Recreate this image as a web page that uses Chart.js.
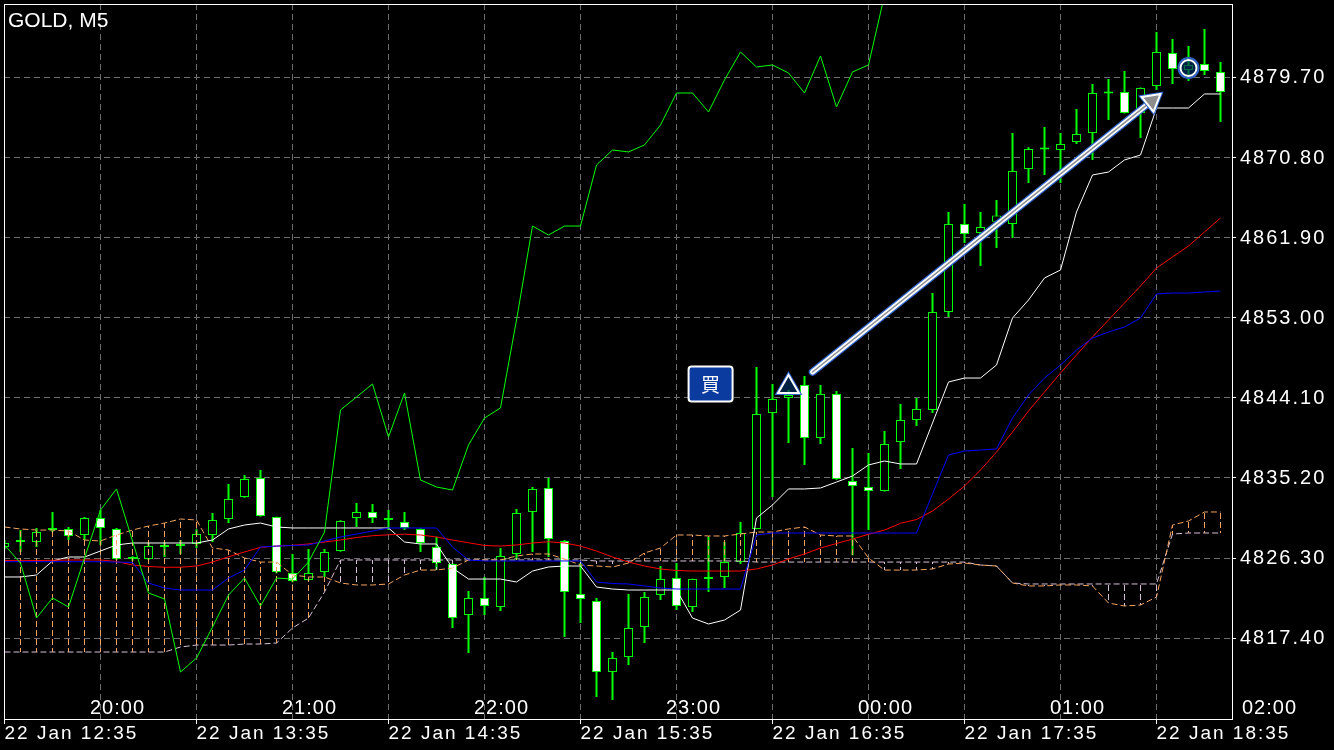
<!DOCTYPE html>
<html>
<head>
<meta charset="utf-8">
<title>GOLD, M5</title>
<script src="https://cdn.jsdelivr.net/npm/chart.js@4.4.1/dist/chart.umd.min.js"></script>
<style>
  html, body { margin: 0; padding: 0; background: #000; overflow: hidden; }
</style>
</head>
<body>
<canvas id="chart" width="1334" height="750"></canvas>
<script>
// 5 minute bars, bar 0 = 22 Jan 12:35 (server time)
const opens = [4827.52, 4828.08, 4828.08, 4829.42, 4829.53, 4828.86, 4830.75, 4829.53, 4826.19, 4826.19,
  4827.52, 4827.64, 4827.86, 4828.86, 4830.64, 4833.09, 4835.20, 4830.86, 4824.63, 4823.86,
  4824.74, 4827.08, 4830.75, 4831.42, 4830.53, 4830.31, 4829.53, 4827.52, 4825.63, 4819.96,
  4821.85, 4820.85, 4826.75, 4831.42, 4834.09, 4828.19, 4822.30, 4821.52, 4813.61, 4815.28,
  4818.63, 4822.19, 4824.08, 4820.85, 4823.97, 4824.19, 4825.85, 4829.53, 4842.43, 4844.10,
  4845.55, 4839.65, 4844.55, 4834.87, 4834.20, 4833.75, 4839.20, 4841.65, 4842.77, 4853.67,
  4863.46, 4862.46, 4863.70, 4863.46, 4869.58, 4871.75, 4871.69, 4872.58, 4873.58, 4877.98,
  4878.14, 4875.81, 4878.81, 4882.48, 4880.59, 4881.26, 4880.37];
const highs = [4828.30, 4829.42, 4829.64, 4831.42, 4829.75, 4830.86, 4831.64, 4829.64, 4826.50, 4827.97,
  4828.08, 4828.30, 4829.50, 4831.31, 4834.53, 4835.53, 4836.09, 4830.90, 4826.75, 4827.30,
  4827.30, 4830.50, 4832.42, 4832.31, 4831.64, 4831.42, 4829.60, 4828.64, 4825.70, 4822.63,
  4824.19, 4827.41, 4831.75, 4834.20, 4835.20, 4828.30, 4825.74, 4821.85, 4815.84, 4822.30,
  4822.52, 4825.41, 4825.74, 4824.00, 4828.64, 4828.08, 4830.31, 4847.55, 4845.66, 4844.99,
  4846.55, 4845.55, 4844.88, 4838.54, 4837.98, 4840.43, 4843.43, 4844.10, 4855.78, 4864.79,
  4865.69, 4864.79, 4866.13, 4873.58, 4872.00, 4874.25, 4873.58, 4876.25, 4879.03, 4879.59,
  4880.48, 4878.65, 4884.82, 4884.04, 4883.26, 4885.15, 4881.48];
const lows = [4827.30, 4826.97, 4827.52, 4829.19, 4828.30, 4828.30, 4827.75, 4826.08, 4826.00, 4826.08,
  4826.41, 4826.75, 4827.41, 4828.08, 4830.19, 4833.00, 4830.90, 4824.60, 4823.60, 4823.80,
  4824.19, 4827.00, 4829.75, 4830.19, 4829.42, 4829.42, 4826.97, 4824.97, 4818.51, 4815.73,
  4819.96, 4820.40, 4826.08, 4826.97, 4826.41, 4817.51, 4819.07, 4810.84, 4810.51, 4814.39,
  4816.84, 4821.63, 4820.52, 4820.30, 4822.52, 4822.96, 4825.63, 4829.50, 4833.09, 4839.09,
  4836.65, 4838.98, 4835.00, 4826.60, 4829.42, 4833.70, 4836.20, 4840.99, 4842.43, 4853.11,
  4861.35, 4858.79, 4860.79, 4861.90, 4868.02, 4868.91, 4868.02, 4872.36, 4870.58, 4875.03,
  4875.75, 4873.03, 4878.37, 4879.03, 4879.37, 4880.03, 4874.81];
const closes = [4827.97, 4828.19, 4829.19, 4829.53, 4828.75, 4830.75, 4829.64, 4826.19, 4826.30, 4827.64,
  4827.64, 4827.75, 4828.97, 4830.53, 4832.86, 4835.09, 4830.97, 4824.74, 4823.74, 4824.63,
  4826.97, 4830.42, 4831.42, 4830.75, 4830.64, 4829.64, 4827.97, 4825.74, 4819.63, 4821.85,
  4820.96, 4826.52, 4831.31, 4833.98, 4828.41, 4822.52, 4821.74, 4813.61, 4815.17, 4818.51,
  4821.96, 4823.97, 4820.96, 4823.97, 4824.08, 4825.85, 4829.08, 4842.32, 4843.99, 4844.44,
  4839.65, 4844.55, 4835.09, 4834.31, 4833.75, 4838.98, 4841.65, 4842.88, 4853.67, 4863.46,
  4862.35, 4863.12, 4864.40, 4869.35, 4871.80, 4871.85, 4872.36, 4873.47, 4878.03, 4878.08,
  4875.81, 4878.59, 4882.59, 4880.70, 4881.15, 4880.48, 4878.14];

// indicator lines
const whiteLine = [4824.19, 4824.19, 4824.41, 4825.97, 4826.41, 4826.41, 4827.08, 4827.75, 4827.97, 4827.97,
  4827.97, 4827.97, 4827.97, 4828.30, 4829.53, 4829.97, 4830.19, 4829.75, 4829.64, 4829.64,
  4829.64, 4829.64, 4829.64, 4829.64, 4829.64, 4828.08, 4827.86, 4827.86, 4825.19, 4823.96,
  4823.96, 4823.96, 4823.63, 4824.85, 4825.30, 4825.41, 4825.41, 4823.07, 4822.85, 4822.74,
  4822.74, 4822.74, 4822.74, 4819.62, 4818.96, 4819.40, 4820.51, 4830.75, 4832.20, 4833.98,
  4833.98, 4834.09, 4834.75, 4835.42, 4836.65, 4837.09, 4836.76, 4836.76, 4841.32, 4845.88,
  4846.32, 4846.32, 4847.77, 4853.00, 4855.00, 4857.45, 4858.34, 4864.79, 4868.91, 4869.24,
  4870.58, 4871.13, 4876.36, 4876.36, 4876.36, 4877.92, 4877.92];
const blueLine = [4825.89, 4825.89, 4825.89, 4825.89, 4825.89, 4825.89, 4825.89, 4825.85, 4825.80, 4823.52,
  4822.96, 4822.74, 4822.74, 4822.74, 4824.07, 4824.96, 4827.52, 4827.63, 4827.69, 4827.75,
  4828.19, 4828.64, 4828.97, 4829.30, 4829.64, 4829.64, 4829.64, 4829.64, 4827.52, 4826.08,
  4825.97, 4825.97, 4825.97, 4825.97, 4825.97, 4825.97, 4825.97, 4823.63, 4823.46, 4823.41,
  4823.19, 4822.96, 4822.85, 4822.85, 4822.85, 4822.85, 4822.85, 4828.86, 4829.08, 4829.08,
  4829.08, 4829.08, 4829.08, 4829.08, 4829.08, 4829.08, 4829.08, 4829.08, 4833.42, 4837.76,
  4838.20, 4838.31, 4838.43, 4841.87, 4844.43, 4846.32, 4847.77, 4849.44, 4850.77, 4851.44,
  4852.00, 4853.00, 4855.67, 4855.78, 4855.78, 4855.89, 4856.00];
const redLine = [4826.02, 4826.00, 4826.02, 4826.04, 4826.08, 4826.08, 4826.08, 4825.91, 4825.52, 4825.35,
  4825.27, 4825.27, 4825.41, 4825.85, 4826.44, 4826.97, 4827.49, 4827.63, 4827.71, 4827.86,
  4828.08, 4828.30, 4828.58, 4828.78, 4828.88, 4828.95, 4828.86, 4828.64, 4828.30, 4828.00,
  4827.69, 4827.63, 4827.75, 4827.97, 4828.11, 4827.97, 4827.63, 4827.08, 4826.41, 4825.85,
  4825.41, 4825.08, 4824.91, 4824.85, 4824.85, 4824.85, 4824.85, 4825.08, 4825.52, 4826.19,
  4826.75, 4827.41, 4827.91, 4828.41, 4828.94, 4829.41, 4830.16, 4830.58, 4831.53, 4832.86,
  4834.31, 4836.09, 4838.09, 4840.32, 4842.65, 4844.77, 4846.88, 4848.88, 4850.89, 4852.78,
  4854.67, 4856.56, 4858.56, 4859.79, 4861.01, 4862.57, 4864.12];
const greenLine = [4827.75, 4825.74, 4819.63, 4821.85, 4820.85, 4826.30, 4831.64, 4833.98, 4828.19, 4822.41,
  4821.74, 4813.62, 4815.17, 4818.62, 4822.18, 4824.07, 4820.96, 4824.07, 4823.96, 4825.85,
  4829.19, 4842.77, 4844.21, 4845.66, 4839.76, 4844.66, 4834.98, 4834.20, 4833.86, 4838.87,
  4841.87, 4842.99, 4852.78, 4863.23, 4862.23, 4863.23, 4863.23, 4870.02, 4871.69, 4871.47,
  4872.25, 4874.47, 4878.03, 4878.03, 4875.92, 4879.48, 4882.59, 4880.92, 4881.15, 4880.26,
  4878.03, 4882.15, 4876.47, 4880.37, 4881.15, 4888.90, null, null, null, null,
  null, null, null, null, null, null, null, null, null, null,
  null, null, null, null, null, null, null];
const spanA = [4829.75, 4829.53, 4829.41, 4829.41, 4829.30, 4828.30, 4828.19, 4828.86, 4829.41, 4829.86,
  4830.19, 4830.64, 4830.53, 4827.41, 4827.19, 4826.30, 4825.85, 4825.85, 4824.41, 4824.19,
  4824.19, 4823.52, 4823.30, 4823.30, 4823.41, 4824.41, 4824.96, 4824.96, 4825.19, 4826.08,
  4826.08, 4826.08, 4826.52, 4826.75, 4826.75, 4826.19, 4825.52, 4825.41, 4825.30, 4825.74,
  4826.86, 4827.41, 4828.86, 4828.86, 4828.75, 4828.75, 4828.97, 4829.19, 4829.19, 4829.53,
  4829.75, 4828.86, 4828.75, 4828.75, 4826.30, 4824.96, 4824.96, 4824.96, 4825.08, 4825.63,
  4825.74, 4825.52, 4825.41, 4823.52, 4823.19, 4823.19, 4823.30, 4823.30, 4823.19, 4821.29,
  4820.96, 4821.07, 4821.96, 4829.97, 4830.42, 4831.42, 4831.42];
const spanB = [4815.84, 4815.84, 4815.84, 4815.84, 4815.84, 4815.84, 4815.84, 4815.84, 4815.84, 4815.84,
  4815.84, 4816.40, 4816.62, 4816.62, 4816.62, 4816.73, 4816.73, 4816.84, 4818.51, 4819.62,
  4822.52, 4826.08, 4826.08, 4826.08, 4826.08, 4826.08, 4826.08, 4826.08, 4826.08, 4826.08,
  4826.08, 4826.08, 4826.08, 4826.08, 4826.08, 4826.08, 4826.08, 4825.97, 4825.97, 4825.97,
  4825.97, 4825.97, 4825.97, 4825.97, 4825.97, 4825.97, 4825.97, 4825.85, 4825.85, 4825.85,
  4825.85, 4825.85, 4825.85, 4825.85, 4825.85, 4825.85, 4825.85, 4825.85, 4825.85, 4825.85,
  4825.85, 4825.52, 4825.41, 4823.52, 4823.41, 4823.41, 4823.41, 4823.41, 4823.41, 4823.41,
  4823.41, 4823.41, 4823.41, 4828.97, 4829.08, 4829.08, 4829.08];

const priceTicks = [4817.40, 4826.30, 4835.20, 4844.10, 4853.00, 4861.90, 4870.80, 4879.70];
const dateLabels = ['22 Jan 12:35', '22 Jan 13:35', '22 Jan 14:35', '22 Jan 15:35',
  '22 Jan 16:35', '22 Jan 17:35', '22 Jan 18:35'];
const hourLabels = ['20:00', '21:00', '22:00', '23:00', '00:00', '01:00', '02:00'];

// trade marks (bar index, price)
const buyMark = { x: 49, y: 4845.32 };
const closeMark = { x: 74, y: 4880.81 };
const arrowLine = [{ x: 50.5, y: 4846.99 }, { x: 71.71, y: 4877.15 }];
const buyTag = { x: 44.13, y: 4845.66, text: '買' };

const canvas = document.getElementById('chart');
const ctx = canvas.getContext('2d');

function dashFill(color) {
  const tile = document.createElement('canvas');
  tile.width = 1;
  tile.height = 9;
  const t = tile.getContext('2d');
  t.fillStyle = color;
  t.fillRect(0, 0, 1, 6);
  return ctx.createPattern(tile, 'repeat');
}
const hatchA = dashFill('#f4a460');
const hatchB = dashFill('#d8bfd8');

const pts = arr => arr.map((v, i) => ({ x: i, y: v }));
const GREEN = '#00ff00';

const noPad = s => { s.paddingLeft = 0; s.paddingRight = 0; s.paddingTop = 0; s.paddingBottom = 0; };

const overlay = {
  id: 'overlay',
  beforeDraw(chart) {
    // the terminal's axis text is widely tracked
    chart.ctx.letterSpacing = '2px';
  },
  afterDatasetsDraw(chart) {
    const { ctx, scales: { x, y } } = chart;
    // buy tag
    const cx = x.getPixelForValue(buyTag.x);
    const cy = y.getPixelForValue(buyTag.y);
    ctx.save();
    ctx.letterSpacing = '0px';
    ctx.beginPath();
    ctx.roundRect(cx - 22, cy - 17.5, 44, 35, 3);
    ctx.fillStyle = '#0b3b9e';
    ctx.fill();
    ctx.lineWidth = 2;
    ctx.strokeStyle = '#ffffff';
    ctx.stroke();
    ctx.fillStyle = '#ffffff';
    ctx.font = '19px "Noto Sans CJK JP"';
    ctx.textAlign = 'center';
    ctx.textBaseline = 'middle';
    ctx.fillText(buyTag.text, cx, cy + 1);
    ctx.restore();
  },
  afterDraw(chart) {
    const { ctx, chartArea: a, scales: { x } } = chart;
    ctx.save();
    ctx.strokeStyle = '#ffffff';
    ctx.lineWidth = 1;
    ctx.strokeRect(a.left + 0.5, a.top + 0.5, a.right - a.left, a.bottom - a.top);
    ctx.fillStyle = '#ffffff';
    ctx.textBaseline = 'middle';
    ctx.letterSpacing = '0px';
    ctx.font = '21px "Liberation Sans"';
    ctx.fillText('GOLD, M5', 8, 21);
    ctx.textAlign = 'center';
    ctx.letterSpacing = '1px';
    ctx.font = '20px "Liberation Sans"';
    hourLabels.forEach((h, i) => {
      ctx.fillText(h, x.getPixelForValue(7 + 12 * i) + 1, 708);
    });
    ctx.restore();
  }
};

new Chart(ctx, {
  type: 'bar',
  data: {
    datasets: [
      // marks and arrow (top)
      { type: 'line', data: [closeMark], showLine: false, pointStyle: 'circle', pointRadius: 8,
        pointBackgroundColor: 'rgba(0,45,95,0.7)', pointBorderColor: '#ffffff', pointBorderWidth: 2, order: 0 },
      { type: 'line', data: [closeMark], showLine: false, pointStyle: 'circle', pointRadius: 10,
        pointBackgroundColor: 'rgba(0,0,0,0)', pointBorderColor: '#2f62c8', pointBorderWidth: 2, order: 1 },
      { type: 'line', data: [buyMark], showLine: false, pointStyle: 'triangle', pointRadius: 12,
        pointBackgroundColor: 'rgba(0,45,95,0.7)', pointBorderColor: '#ffffff', pointBorderWidth: 2, order: 0 },
      { type: 'line', data: [buyMark], showLine: false, pointStyle: 'triangle', pointRadius: 14,
        pointBackgroundColor: 'rgba(0,0,0,0)', pointBorderColor: '#2f62c8', pointBorderWidth: 2, order: 1 },
      { type: 'line', data: [arrowLine[1]], showLine: false, pointStyle: 'triangle', pointRadius: 11,
        pointRotation: 51.3, pointBackgroundColor: '#8d8d8d', pointBorderColor: '#ffffff', pointBorderWidth: 2, order: 0 },
      { type: 'line', data: [arrowLine[1]], showLine: false, pointStyle: 'triangle', pointRadius: 13,
        pointRotation: 51.3, pointBackgroundColor: 'rgba(0,0,0,0)', pointBorderColor: '#2f62c8', pointBorderWidth: 2, order: 1 },
      { type: 'line', data: arrowLine, borderColor: '#8d8d8d', borderWidth: 1.5, pointRadius: 0, borderCapStyle: 'round', order: 2 },
      { type: 'line', data: arrowLine, borderColor: '#ffffff', borderWidth: 5, pointRadius: 0, borderCapStyle: 'round', order: 3 },
      { type: 'line', data: arrowLine, borderColor: '#2f62c8', borderWidth: 7.5, pointRadius: 0, borderCapStyle: 'round', order: 4 },

      // indicator lines
      { type: 'line', data: pts(greenLine), borderColor: GREEN, borderWidth: 1, pointRadius: 0, spanGaps: false, order: 5 },
      { type: 'line', data: pts(blueLine), borderColor: '#0000ff', borderWidth: 1, pointRadius: 0, order: 6 },
      { type: 'line', data: pts(redLine), borderColor: '#ff0000', borderWidth: 1, pointRadius: 0, order: 7 },
      { type: 'line', data: pts(whiteLine), borderColor: '#ffffff', borderWidth: 1, pointRadius: 0, order: 8 },
      { type: 'line', data: pts(spanA), borderColor: '#f4a460', borderWidth: 1, borderDash: [6, 3], pointRadius: 0, order: 9 },
      { type: 'line', data: pts(spanB), borderColor: '#d8bfd8', borderWidth: 1, borderDash: [6, 3], pointRadius: 0, order: 10 },

      // cloud hatching
      { data: spanA.map((v, i) => ({ x: i, y: [spanB[i], v] })),
        backgroundColor: spanA.map((v, i) => v >= spanB[i] ? hatchA : hatchB),
        barThickness: 1, grouped: false, borderWidth: 0, inflateAmount: 0, order: 11 },

      // candles
      { data: opens.map((o, i) => ({ x: i, y: [o, closes[i]] })),
        backgroundColor: opens.map((o, i) => closes[i] < o ? '#ffffff' : '#000000'),
        borderColor: GREEN, borderWidth: 1, borderSkipped: false, minBarLength: 2,
        barThickness: 9, grouped: false, inflateAmount: 0, order: 12 },
      { data: lows.map((l, i) => ({ x: i, y: [l, highs[i]] })),
        backgroundColor: GREEN, barThickness: 2, grouped: false, borderWidth: 0, inflateAmount: 0, order: 13 }
    ]
  },
  options: {
    responsive: false,
    devicePixelRatio: 1,
    animation: false,
    events: [],
    layout: { autoPadding: false, padding: { top: 4, left: 4, right: 0, bottom: 0 } },
    plugins: { legend: { display: false }, tooltip: { enabled: false } },
    elements: { line: { tension: 0 } },
    scales: {
      x: {
        type: 'linear',
        min: -0.03125,
        max: 76.71875,
        offset: false,
        afterBuildTicks: s => { s.ticks = [0, 6, 12, 18, 24, 30, 36, 42, 48, 54, 60, 66, 72].map(v => ({ value: v })); },
        afterFit: s => { s.height = 31; noPad(s); },
        grid: {
          color: '#6e6e6e', offset: false, tickLength: 5, tickBorderDash: [],
          tickColor: c => (c.tick && c.tick.value % 12 === 0) ? '#ffffff' : 'rgba(0,0,0,0)'
        },
        border: { display: false, dash: [6, 4] },
        ticks: {
          color: '#ffffff', autoSkip: false, maxRotation: 0, minRotation: 0, align: 'start', padding: 0,
          font: { family: '"Liberation Sans"', size: 19, lineHeight: 1 },
          callback: v => v % 12 === 0 ? dateLabels[v / 12] : ''
        }
      },
      y: {
        type: 'linear',
        position: 'right',
        min: 4808.39,
        max: 4887.93,
        beginAtZero: false,
        afterBuildTicks: s => { s.ticks = priceTicks.map(v => ({ value: v })); },
        afterFit: s => { s.width = 102; noPad(s); },
        grid: { color: '#6e6e6e', tickLength: 4, tickColor: '#ffffff', tickBorderDash: [] },
        border: { display: false, dash: [6, 4] },
        ticks: {
          color: '#ffffff', padding: 4,
          font: { family: '"Liberation Sans"', size: 20 },
          callback: v => v.toFixed(2)
        }
      }
    }
  },
  plugins: [overlay]
});
</script>
</body>
</html>
